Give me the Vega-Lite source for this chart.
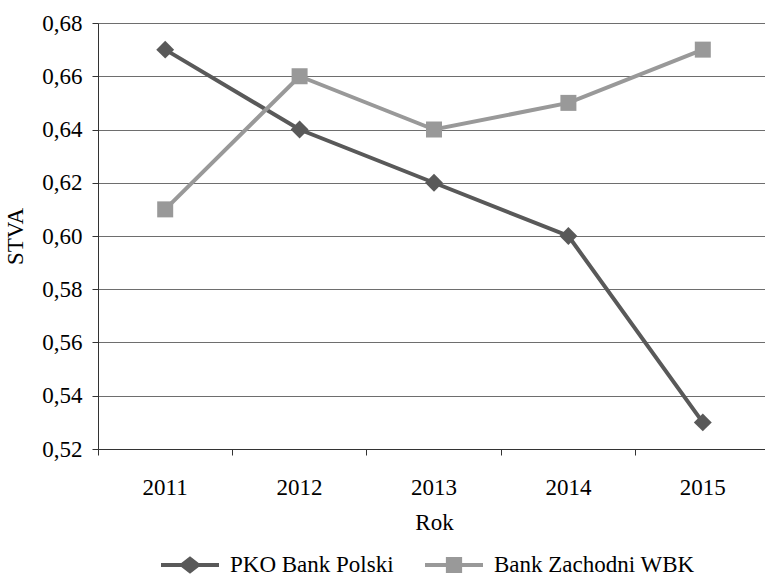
{
  "$schema": "https://vega.github.io/schema/vega-lite/v6.json",
  "autosize": "none",
  "width": 672,
  "height": 426,
  "padding": {"left": 98, "top": 23, "right": 0, "bottom": 128},
  "background": "white",
  "config": {
    "font": "Liberation Serif, Times New Roman, Times, serif",
    "view": {"stroke": null},
    "axis": {"labelFont": "Liberation Serif, Times New Roman, Times, serif", "titleFont": "Liberation Serif, Times New Roman, Times, serif", "labelFontSize": 23, "titleFontSize": 23, "labelColor": "#000", "titleColor": "#000", "titleFontWeight": "normal"},
    "legend": {"labelFont": "Liberation Serif, Times New Roman, Times, serif", "labelFontSize": 23, "labelColor": "#000", "labelLimit": 400}
  },
  "data": {
    "values": [
      {"rok": "2011", "bank": "PKO Bank Polski", "stva": 0.67},
      {"rok": "2012", "bank": "PKO Bank Polski", "stva": 0.64},
      {"rok": "2013", "bank": "PKO Bank Polski", "stva": 0.62},
      {"rok": "2014", "bank": "PKO Bank Polski", "stva": 0.60},
      {"rok": "2015", "bank": "PKO Bank Polski", "stva": 0.53},
      {"rok": "2011", "bank": "Bank Zachodni WBK", "stva": 0.61},
      {"rok": "2012", "bank": "Bank Zachodni WBK", "stva": 0.66},
      {"rok": "2013", "bank": "Bank Zachodni WBK", "stva": 0.64},
      {"rok": "2014", "bank": "Bank Zachodni WBK", "stva": 0.65},
      {"rok": "2015", "bank": "Bank Zachodni WBK", "stva": 0.67}
    ]
  },
  "encoding": {
    "x": {
      "field": "rok", "type": "ordinal", "title": "Rok",
      "scale": {"type": "band", "paddingInner": 0, "paddingOuter": 0},
      "axis": {"labelAngle": 0, "domainColor": "#333", "tickColor": "#333", "tickSize": 6, "bandPosition": 0, "labelPadding": 21, "titlePadding": 12, "grid": false}
    },
    "y": {
      "field": "stva", "type": "quantitative", "title": "STVA",
      "scale": {"domain": [0.52, 0.68], "nice": false, "zero": false},
      "axis": {"values": [0.52, 0.54, 0.56, 0.58, 0.60, 0.62, 0.64, 0.66, 0.68], "labelExpr": "replace(format(datum.value, '.2f'), '.', ',')", "grid": true, "gridColor": "#6e6e6e", "gridWidth": 1, "gridOpacity": 1, "domainColor": "#333", "tickColor": "#333", "tickSize": 6, "labelPadding": 10, "titlePadding": 14}
    }
  },
  "layer": [
    {
      "mark": {"type": "line", "strokeWidth": 4},
      "encoding": {
        "color": {"field": "bank", "type": "nominal", "scale": {"domain": ["PKO Bank Polski", "Bank Zachodni WBK"], "range": ["#595959", "#999999"]}, "legend": null}
      }
    },
    {
      "mark": {"type": "point", "filled": true, "opacity": 1},
      "encoding": {
        "color": {"field": "bank", "type": "nominal", "scale": {"domain": ["PKO Bank Polski", "Bank Zachodni WBK"], "range": ["#595959", "#999999"]}, "legend": null},
        "shape": {"field": "bank", "type": "nominal", "scale": {"domain": ["PKO Bank Polski", "Bank Zachodni WBK"], "range": ["diamond", "square"]}, "legend": null},
        "size": {"field": "bank", "type": "nominal", "scale": {"domain": ["PKO Bank Polski", "Bank Zachodni WBK"], "range": [320, 256]}, "legend": null}
      }
    },
    {
      "mark": {"type": "point", "filled": true, "opacity": 0, "size": 3364},
      "encoding": {
        "color": {"field": "bank", "type": "nominal", "scale": {"domain": ["PKO Bank Polski", "Bank Zachodni WBK"], "range": ["#595959", "#999999"]}, "title": null,
          "legend": {"orient": "none", "legendX": 62, "legendY": 512, "direction": "horizontal", "columns": 2, "symbolSize": 3364, "symbolOpacity": 1, "labelOffset": 10, "columnPadding": 28, "labelLimit": 400, "title": null}},
        "shape": {"field": "bank", "type": "nominal", "title": null, "scale": {"domain": ["PKO Bank Polski", "Bank Zachodni WBK"], "range": ["M-1,-0.07H-0.3L0,-0.3L0.3,-0.07H1V0.07H0.3L0,0.3L-0.3,0.07H-1Z", "M-1,-0.07H-0.28V-0.28H0.28V-0.07H1V0.07H0.28V0.28H-0.28V0.07H-1Z"]},
          "legend": {"orient": "none", "legendX": 62, "legendY": 512, "direction": "horizontal", "columns": 2, "symbolSize": 3364, "symbolOpacity": 1, "labelOffset": 10, "columnPadding": 28, "labelLimit": 400, "title": null}}
      }
    }
  ],
  "resolve": {"scale": {"shape": "independent", "color": "independent", "size": "independent"}}
}
